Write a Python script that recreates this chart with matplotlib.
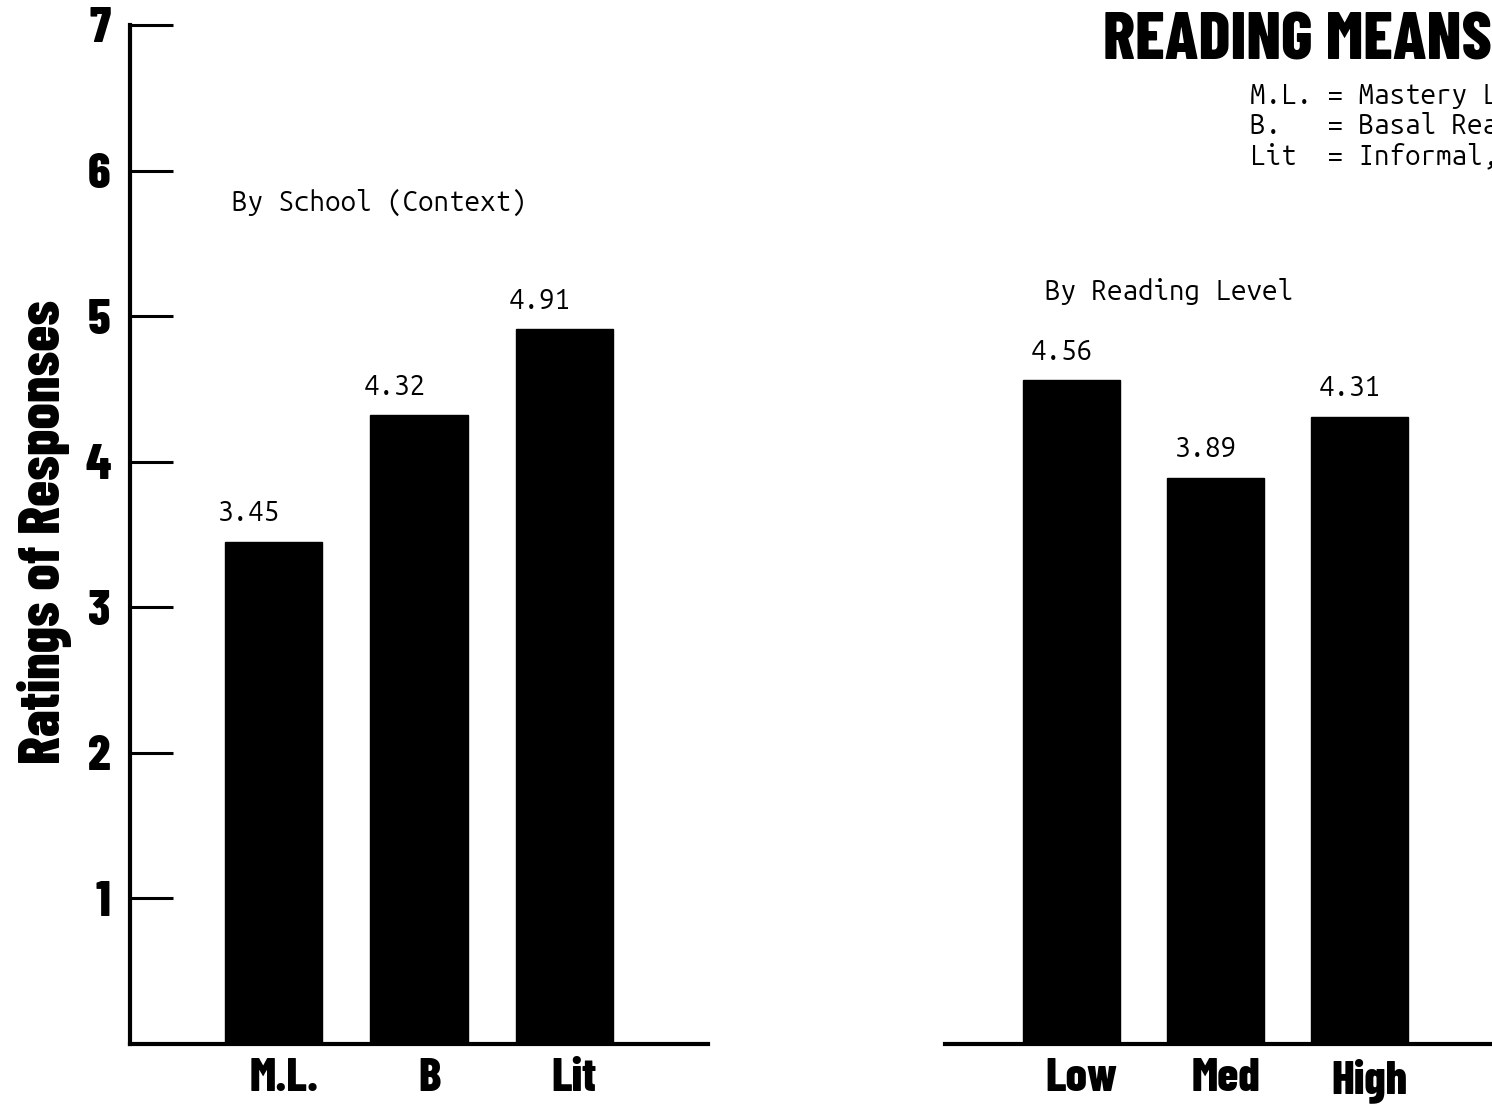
import matplotlib

matplotlib.use("Agg")
import matplotlib.pyplot as plt

school_labels = ["M.L.", "B", "Lit"]
school_means = [3.45, 4.32, 4.91]
level_labels = ["Low", "Med", "High"]
level_means = [4.56, 3.89, 4.31]
y_ticks = [1, 2, 3, 4, 5, 6, 7]
legend_lines = [
    "M.L. = Mastery Learning",
    "B.   = Basal Reader",
    "Lit  = Informal, Literature",
]

# heavy condensed face like the typeset labels, typewriter mono for the notes
BOLD = ["Barlow Condensed", "Roboto Condensed", "DejaVu Sans"]
MONO = ["Ubuntu Mono", "DejaVu Sans Mono"]
W, H = 1492, 1107

fig = plt.figure(figsize=(W / 100, H / 100), dpi=100)
fig.patch.set_facecolor("white")

y0, y7 = 1044, 25
bottom = (H - y0) / H
height = (y0 - y7) / H
ax1 = fig.add_axes([130 / W, bottom, 578 / W, height])
ax2 = fig.add_axes([945 / W, bottom, 547 / W, height])


def draw_group(ax, labels, means, xlim, label_dx):
    xs = list(range(len(labels)))
    ax.bar(xs, means, width=0.67, color="black", edgecolor="black")
    for x, m in zip(xs, means):
        ax.text(x + label_dx, m + 0.14, f"{m:.2f}", ha="center", va="baseline",
                fontsize=20, family=MONO)
    ax.set_xlim(*xlim)
    ax.set_ylim(0, 7)
    ax.set_xticks([x + 0.07 for x in xs])
    ax.set_xticklabels(labels, fontsize=34, fontweight=800, family=BOLD)
    ax.tick_params(axis="x", length=0, pad=10)
    for side in ["top", "right"]:
        ax.spines[side].set_visible(False)
    ax.spines["bottom"].set_linewidth(3)
    ax.set_facecolor("none")


draw_group(ax1, school_labels, school_means, (-0.99, 2.99), -0.17)
draw_group(ax2, level_labels, level_means, (-0.88, 2.92), -0.07)

ax1.spines["left"].set_linewidth(3)
ax1.set_yticks(y_ticks)
ax1.set_yticklabels([str(t) for t in y_ticks], fontsize=36, fontweight=800, family=BOLD)
ax1.tick_params(axis="y", direction="in", length=31, width=2.2, pad=14)
ax1.set_ylabel("Ratings of Responses", fontsize=42, fontweight=800, family=BOLD)
ax1.yaxis.set_label_coords(-0.10, 0.502)

ax2.spines["left"].set_visible(False)
ax2.set_yticks([])

fig.text(232 / W, 1 - 211 / H, "By School (Context)", fontsize=20, family=MONO,
         va="baseline", ha="left")
fig.text(1045 / W, 1 - 300 / H, "By Reading Level", fontsize=20, family=MONO,
         va="baseline", ha="left")
fig.text(1103 / W, 1 - 59 / H, "READING MEANS", fontsize=48, fontweight=800,
         family=BOLD, va="baseline", ha="left")
for i, line in enumerate(legend_lines):
    fig.text(1250 / W, 1 - (104 + 30 * i) / H, line, fontsize=20, family=MONO,
             va="baseline", ha="left")

fig.savefig("out.png", dpi=100, facecolor="white")
